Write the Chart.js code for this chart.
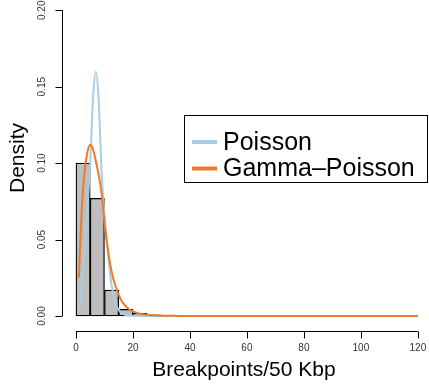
<!DOCTYPE html>
<html>
<head>
<meta charset="utf-8">
<script src="https://cdn.jsdelivr.net/npm/chart.js@4/dist/chart.umd.min.js"></script>
<style>
  html, body { margin: 0; padding: 0; background: #fff; }
  canvas { display: block; }
</style>
</head>
<body>
<canvas id="densityChart" width="429" height="391"></canvas>
<script>
// Histogram of breakpoints (bin centres, width 5) and density
const binCenters = [2.5, 7.5, 12.5, 17.5, 22.5, 27.5];
const binDensity = [0.100, 0.077, 0.017, 0.0044, 0.0018, 0.0008];

// Fitted Poisson curve
const poissonX = [1, 2, 3, 4, 5, 6, 7, 8, 9, 10, 11, 12, 13, 14, 15, 16, 17, 18, 20, 25, 120];
const poissonY = [0.003, 0.018, 0.045, 0.072, 0.100, 0.143, 0.160, 0.140, 0.094, 0.066, 0.046, 0.027, 0.015, 0.008, 0.004, 0.002, 0.001, 0.0004, 0.0001, 0, 0];

// Fitted Gamma-Poisson curve
const gammaX = [1, 2, 3, 4, 5, 6, 7, 8, 9, 10, 11, 12, 13, 14, 15, 16, 17, 18, 19, 20, 22, 24, 27, 30, 35, 40, 120];
const gammaY = [0.025, 0.068, 0.094, 0.107, 0.112, 0.109, 0.101, 0.092, 0.080, 0.062, 0.046, 0.034, 0.025, 0.019, 0.014, 0.010, 0.0075, 0.0055, 0.004, 0.003, 0.0017, 0.001, 0.0005, 0.0002, 0.0001, 0, 0];

// Axis ticks
const xTicks = [0, 20, 40, 60, 80, 100, 120];
const yTicks = [0, 0.05, 0.10, 0.15, 0.20];
const yTickLabels = ['0.00', '0.05', '0.10', '0.15', '0.20'];

const FONT = '"Liberation Sans", Arial, Helvetica, sans-serif';

const toPoints = (xs, ys) => xs.map((x, i) => ({ x: x, y: ys[i] }));

// R-style axes, titles and legend box
const baseGraphics = {
  id: 'baseGraphics',
  afterDraw(chart) {
    const ctx = chart.ctx;
    const xs = chart.scales.x;
    const ys = chart.scales.y;
    const area = chart.chartArea;
    ctx.save();
    ctx.strokeStyle = '#000';
    ctx.lineWidth = 1;

    // x axis
    const xa = Math.round(area.bottom) + 0.5;
    const x0 = xs.getPixelForValue(xTicks[0]);
    const x1 = xs.getPixelForValue(xTicks[xTicks.length - 1]);
    ctx.beginPath();
    ctx.moveTo(x0, xa);
    ctx.lineTo(x1, xa);
    xTicks.forEach(t => {
      const px = Math.round(xs.getPixelForValue(t)) + 0.5;
      ctx.moveTo(px, xa);
      ctx.lineTo(px, xa + 7);
    });
    ctx.stroke();
    ctx.fillStyle = '#333';
    ctx.font = '10px ' + FONT;
    ctx.textAlign = 'center';
    ctx.textBaseline = 'middle';
    xTicks.forEach(t => ctx.fillText(String(t), xs.getPixelForValue(t), xa + 17));

    // y axis
    const ya = Math.round(area.left) + 0.5;
    const y0 = ys.getPixelForValue(yTicks[0]);
    const y1 = ys.getPixelForValue(yTicks[yTicks.length - 1]);
    ctx.beginPath();
    ctx.moveTo(ya, y0);
    ctx.lineTo(ya, y1);
    yTicks.forEach(t => {
      const py = Math.round(ys.getPixelForValue(t)) + 0.5;
      ctx.moveTo(ya, py);
      ctx.lineTo(ya - 7, py);
    });
    ctx.stroke();
    yTicks.forEach((t, i) => {
      ctx.save();
      ctx.translate(ya - 20, ys.getPixelForValue(t));
      ctx.rotate(-Math.PI / 2);
      ctx.fillText(yTickLabels[i], 0, 0);
      ctx.restore();
    });

    // axis titles
    ctx.fillStyle = '#000';
    ctx.font = '21px ' + FONT;
    ctx.fillText('Breakpoints/50 Kbp', 244, 370);
    ctx.save();
    ctx.translate(18, 158);
    ctx.rotate(-Math.PI / 2);
    ctx.fillText('Density', 0, 0);
    ctx.restore();

    // legend
    ctx.strokeRect(184.5, 115.5, 243, 67);
    ctx.font = '25px ' + FONT;
    ctx.textAlign = 'left';
    const lines = chart.data.datasets.filter(d => d.type === 'line');
    const rows = [lines.find(d => d.label === 'Poisson'), lines.find(d => d.label === 'Gamma\u2013Poisson')];
    rows.forEach((d, i) => {
      const ly = 142 + i * 26.5;
      ctx.strokeStyle = d.borderColor;
      ctx.lineWidth = 4;
      ctx.beginPath();
      ctx.moveTo(192, ly);
      ctx.lineTo(217, ly);
      ctx.stroke();
      ctx.fillText(d.label, 223, ly + 1);
    });
    ctx.restore();
  }
};

new Chart(document.getElementById('densityChart'), {
  data: {
    datasets: [
      {
        type: 'line',
        label: 'Gamma\u2013Poisson',
        data: toPoints(gammaX, gammaY),
        borderColor: '#EE7A2A',
        borderWidth: 2,
        pointRadius: 0,
        fill: false,
        cubicInterpolationMode: 'monotone',
        order: 1
      },
      {
        type: 'line',
        label: 'Poisson',
        data: toPoints(poissonX, poissonY),
        borderColor: '#A6CEE3',
        borderWidth: 2,
        pointRadius: 0,
        fill: false,
        cubicInterpolationMode: 'monotone',
        order: 2
      },
      {
        type: 'bar',
        label: 'Breakpoints',
        data: toPoints(binCenters, binDensity),
        backgroundColor: '#BEBEBE',
        borderColor: '#000',
        borderWidth: 1.3,
        borderSkipped: false,
        barPercentage: 1,
        categoryPercentage: 1,
        order: 3
      }
    ]
  },
  options: {
    responsive: false,
    animation: false,
    layout: { padding: { left: 62, right: 0, top: 0, bottom: 60 } },
    scales: {
      x: { type: 'linear', min: -4.9, max: 123.9, offset: false, display: false },
      y: { type: 'linear', min: -0.0098, max: 0.2067, display: false }
    },
    plugins: {
      legend: { display: false },
      tooltip: { enabled: false }
    }
  },
  plugins: [baseGraphics]
});
</script>
</body>
</html>
